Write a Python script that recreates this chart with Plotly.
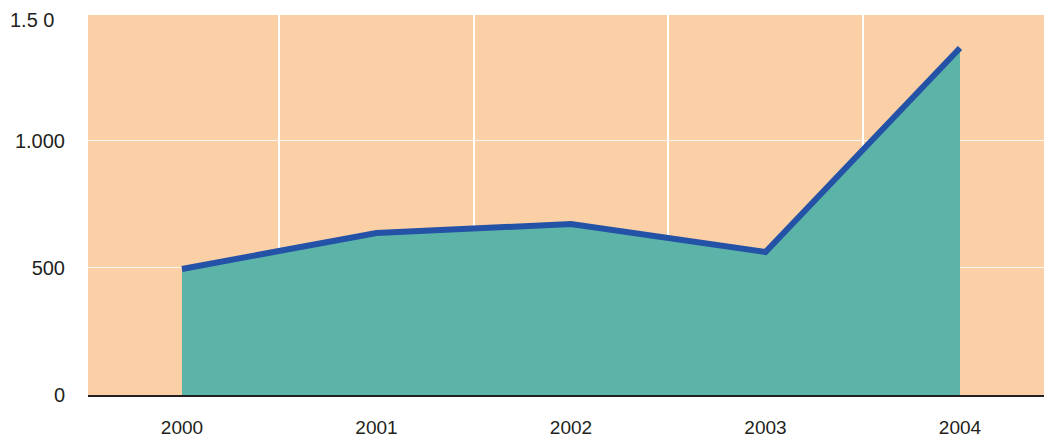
import plotly.graph_objects as go

years = [2000, 2001, 2002, 2003, 2004]
values = [496, 638, 673, 563, 1366]
year_labels = ["2000", "2001", "2002", "2003", "2004"]
y_tickvals = [0, 500, 1000]
y_ticktext = ["0", "500", "1.000"]
top_label = "1.5 0"
divider_positions = [2000.5, 2001.5, 2002.5, 2003.5]

fig = go.Figure()
fig.add_trace(go.Scatter(x=years, y=values, mode="lines", fill="tozeroy",
                         fillcolor="#5cb3a8", line=dict(width=0, color="#5cb3a8"),
                         hoverinfo="skip", showlegend=False))
fig.add_trace(go.Scatter(x=years, y=values, mode="lines",
                         line=dict(width=6, color="#2452a6"),
                         showlegend=False))

fig.update_layout(
    width=1044, height=439,
    margin=dict(l=88, r=0, t=15, b=44),
    paper_bgcolor="white", plot_bgcolor="#fcd0a6",
    font=dict(family="Liberation Sans, Arial, sans-serif", size=20, color="#231f20"),
)
fig.update_xaxes(
    range=[1999.517, 2004.432], tickvals=years, ticktext=year_labels,
    showgrid=False, zeroline=False, showline=True, linecolor="#231f20", linewidth=2,
    ticks="", ticklabelstandoff=14, automargin=False, tickfont=dict(size=19),
    minor=dict(tickvals=divider_positions, showgrid=True, gridcolor="white", gridwidth=2, ticks=""),
)
fig.update_yaxes(
    range=[0, 1496], tickvals=y_tickvals, ticktext=y_ticktext,
    showgrid=True, gridcolor="rgba(255,255,255,0.85)", gridwidth=1,
    zeroline=False, showline=False, ticks="", ticklabelstandoff=22, automargin=False,
)
fig.add_annotation(text=top_label, xref="paper", yref="y", x=-80/956, y=1476,
                   xanchor="left", yanchor="middle", showarrow=False,
                   font=dict(size=20, color="#231f20"))

fig.write_html("out.html", config={"displayModeBar": False},
               post_script="document.body.style.margin='0';")
